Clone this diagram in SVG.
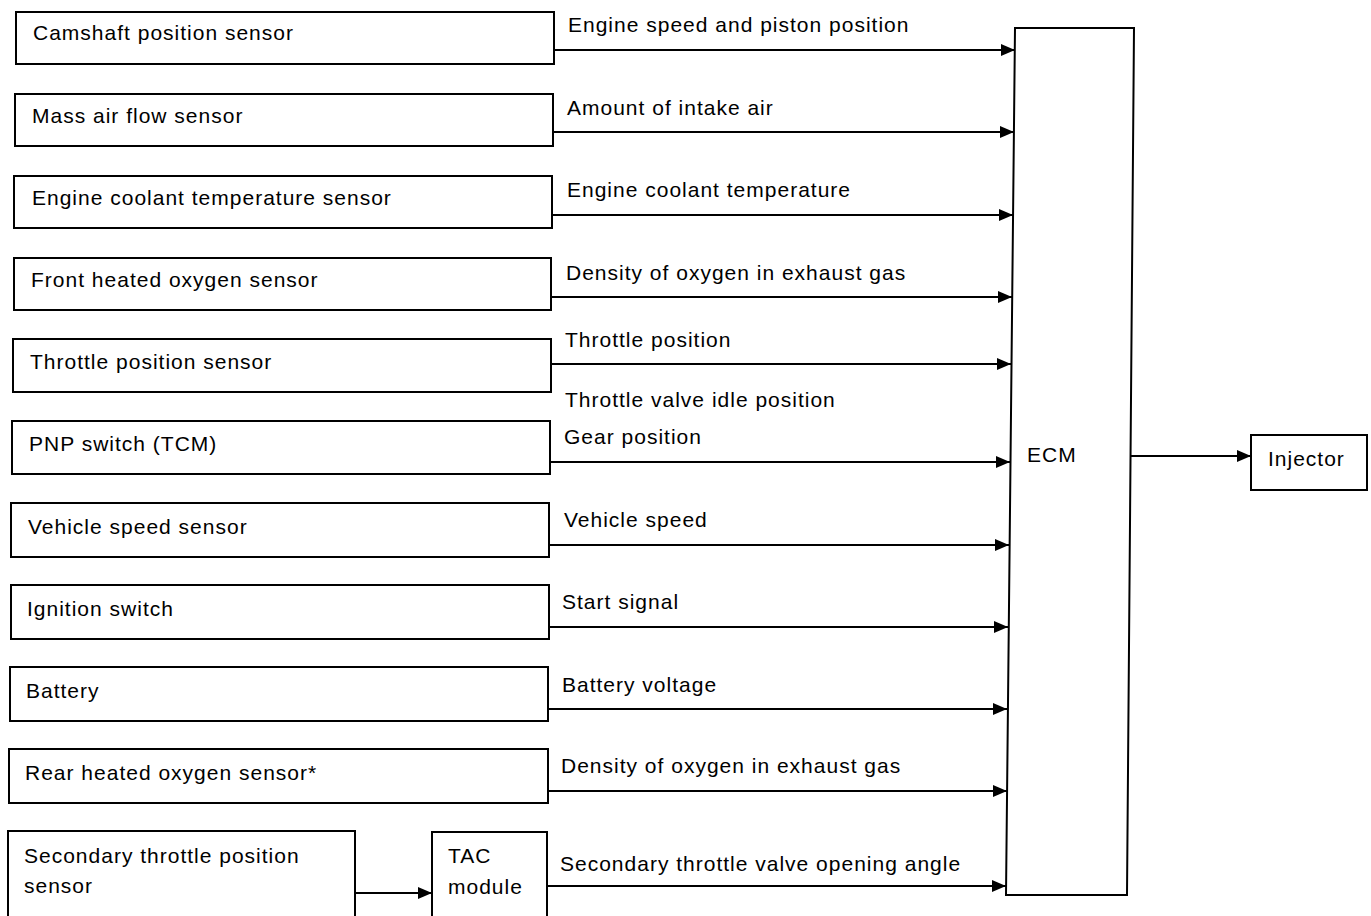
<svg xmlns="http://www.w3.org/2000/svg" width="1371" height="916" viewBox="0 0 1371 916">
<defs>
<style>
.box{fill:#fff;stroke:#000;stroke-width:2}
.t{font-family:"Liberation Sans",Arial,sans-serif;font-size:21px;letter-spacing:1px;fill:#000}
.c{stroke:#000;stroke-width:2;fill:none;marker-end:url(#ah)}
</style>
<marker id="ah" markerUnits="userSpaceOnUse" markerWidth="14" markerHeight="12" refX="14" refY="6" orient="auto">
<path d="M0,0 L14,6 L0,12 z" fill="#000"/>
</marker>
</defs>
<rect width="1371" height="916" fill="#fff"/>
<g id="connectors">
<line class="c" x1="554" y1="50" x2="1015" y2="50"/>
<line class="c" x1="553" y1="132" x2="1014" y2="132"/>
<line class="c" x1="552" y1="215" x2="1013" y2="215"/>
<line class="c" x1="551" y1="297" x2="1012" y2="297"/>
<line class="c" x1="551" y1="364" x2="1011" y2="364"/>
<line class="c" x1="550" y1="462" x2="1010" y2="462"/>
<line class="c" x1="549" y1="545" x2="1009" y2="545"/>
<line class="c" x1="549" y1="627" x2="1008" y2="627"/>
<line class="c" x1="548" y1="709" x2="1007" y2="709"/>
<line class="c" x1="548" y1="791" x2="1007" y2="791"/>
<line class="c" x1="547" y1="886" x2="1006" y2="886"/>
<line class="c" x1="355" y1="893" x2="432" y2="893"/>
<line class="c" x1="1129" y1="456" x2="1251" y2="456"/>
<text class="t" x="568" y="32">Engine speed and piston position</text>
<text class="t" x="567" y="115">Amount of intake air</text>
<text class="t" x="567" y="197">Engine coolant temperature</text>
<text class="t" x="566" y="280">Density of oxygen in exhaust gas</text>
<text class="t" x="565" y="347">Throttle position</text>
<text class="t" x="565" y="407">Throttle valve idle position</text>
<text class="t" x="564" y="444">Gear position</text>
<text class="t" x="564" y="527">Vehicle speed</text>
<text class="t" x="562" y="609">Start signal</text>
<text class="t" x="562" y="692">Battery voltage</text>
<text class="t" x="561" y="773">Density of oxygen in exhaust gas</text>
<text class="t" x="560" y="871">Secondary throttle valve opening angle</text>
</g>
<g id="camshaft"><rect class="box" x="16" y="12" width="538" height="52"/><text class="t" x="33" y="40">Camshaft position sensor</text></g>
<g id="maf"><rect class="box" x="15" y="94" width="538" height="52"/><text class="t" x="32" y="123">Mass air flow sensor</text></g>
<g id="ect"><rect class="box" x="14" y="176" width="538" height="52"/><text class="t" x="32" y="205">Engine coolant temperature sensor</text></g>
<g id="fho2"><rect class="box" x="14" y="258" width="537" height="52"/><text class="t" x="31" y="287">Front heated oxygen sensor</text></g>
<g id="tps"><rect class="box" x="13" y="339" width="538" height="53"/><text class="t" x="30" y="369">Throttle position sensor</text></g>
<g id="pnp"><rect class="box" x="12" y="421" width="538" height="53"/><text class="t" x="29" y="451">PNP switch (TCM)</text></g>
<g id="vss"><rect class="box" x="11" y="503" width="538" height="54"/><text class="t" x="28" y="534">Vehicle speed sensor</text></g>
<g id="ign"><rect class="box" x="11" y="585" width="538" height="54"/><text class="t" x="27" y="616">Ignition switch</text></g>
<g id="battery"><rect class="box" x="10" y="667" width="538" height="54"/><text class="t" x="26" y="698">Battery</text></g>
<g id="rho2"><rect class="box" x="9" y="749" width="539" height="54"/><text class="t" x="25" y="780">Rear heated oxygen sensor*</text></g>
<g id="stps"><rect class="box" x="8" y="831" width="347" height="120"/><text class="t" x="24" y="863">Secondary throttle position</text><text class="t" x="24" y="893">sensor</text></g>
<g id="tac"><rect class="box" x="432" y="832" width="115" height="120"/><text class="t" x="448" y="863">TAC</text><text class="t" x="448" y="894">module</text></g>
<g id="ecm"><path class="box" d="M1015,28 L1134,28 L1127,895 L1006,895 Z"/><text class="t" x="1027" y="462">ECM</text></g>
<g id="injector"><rect class="box" x="1251" y="435" width="116" height="55"/><text class="t" x="1268" y="466">Injector</text></g>
</svg>
